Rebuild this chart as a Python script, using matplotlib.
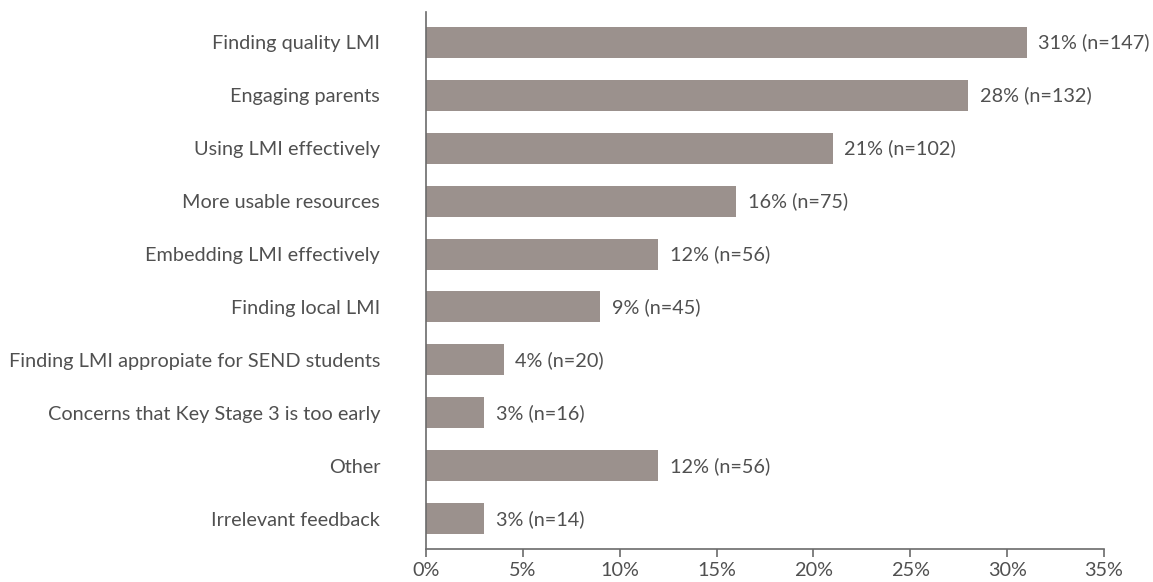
import numpy as np
import matplotlib
matplotlib.use("Agg")
import matplotlib.pyplot as plt

plt.rcParams["font.family"] = ["Lato", "DejaVu Sans"]

categories = [
    "Finding quality LMI",
    "Engaging parents",
    "Using LMI effectively",
    "More usable resources",
    "Embedding LMI effectively",
    "Finding local LMI",
    "Finding LMI appropiate for SEND students",
    "Concerns that Key Stage 3 is too early",
    "Other",
    "Irrelevant feedback",
]
percents = [31, 28, 21, 16, 12, 9, 4, 3, 12, 3]
counts = [147, 132, 102, 75, 56, 45, 20, 16, 56, 14]
xticks = [0, 5, 10, 15, 20, 25, 30, 35]

bar_color = "#9b918d"
text_color = "#505050"
axis_color = "#6b6b6b"
fs = 14.3

fig = plt.figure(figsize=(11.53, 5.82), dpi=100, facecolor="white")
ax = fig.add_axes([0.3695, 0.0567, 0.588, 0.9227])

y = np.arange(len(categories))
ax.barh(y, percents, height=0.585, color=bar_color)
for yi, p, n in zip(y, percents, counts):
    ax.text(p + 0.6, yi, f"{p}% (n={n})", va="center", ha="left", fontsize=fs, color=text_color)

ax.set_ylim(len(categories) - 1 + 0.57, -0.57)
ax.set_xlim(0, 35)
ax.set_yticks(y)
ax.set_yticklabels(categories, fontsize=fs, color=text_color)
ax.tick_params(axis="y", length=0, pad=33)
ax.set_xticks(xticks)
ax.set_xticklabels([f"{t}%" for t in xticks], fontsize=fs, color=text_color)
ax.tick_params(axis="x", length=6, color=axis_color, width=1.2, pad=3)

for s in ["top", "right"]:
    ax.spines[s].set_visible(False)
for s in ["left", "bottom"]:
    ax.spines[s].set_color(axis_color)
    ax.spines[s].set_linewidth(1.2)

fig.savefig("out.png", dpi=100, facecolor="white")
